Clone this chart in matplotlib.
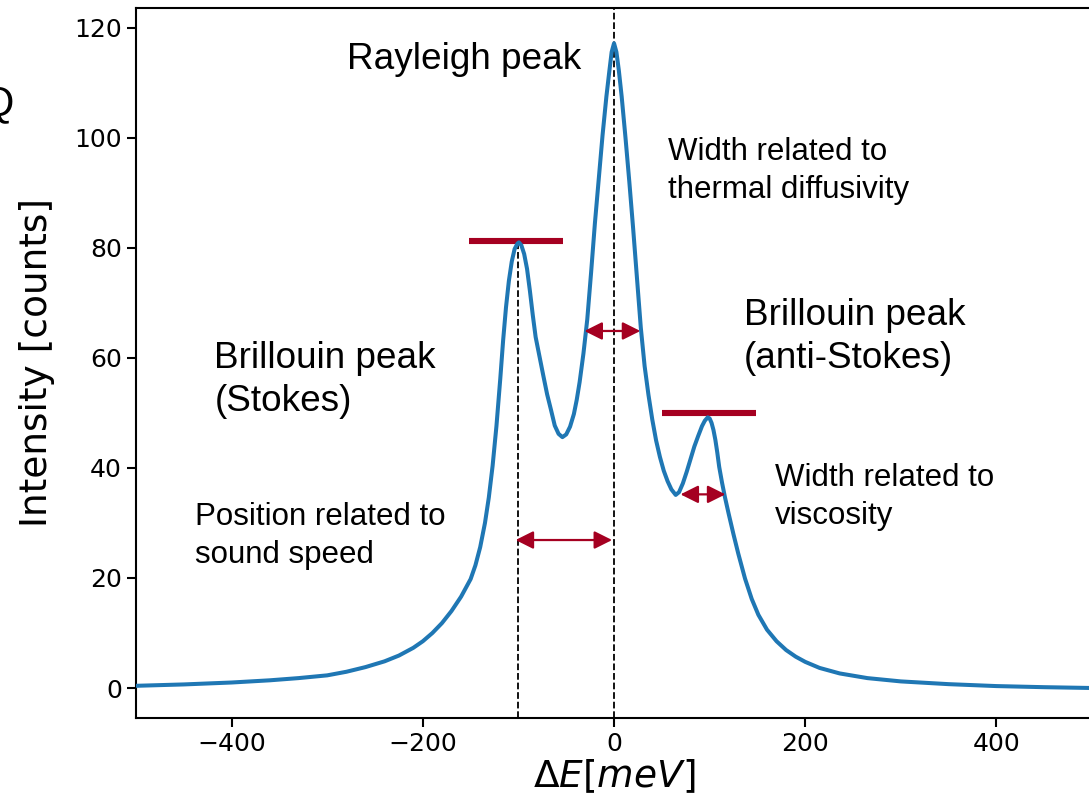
import numpy as np
import matplotlib
matplotlib.use("Agg")
import matplotlib.pyplot as plt

# spectrum (energy shift in meV, intensity in counts)
energy = [-500, -450, -400, -360, -330, -300, -280, -260, -240, -225, -210, -200,
          -190, -180, -170, -160, -150, -145, -140, -135, -131, -127, -123, -119,
          -116, -113, -110, -107, -104, -101, -99.5, -97, -94, -91, -88, -85, -82,
          -78, -74, -70, -66, -62, -58, -54, -50, -46, -42, -39, -36, -32, -28,
          -24, -20, -16, -12, -8, -5, -2.5, 0, 2.5, 5, 8, 12, 16, 20, 24, 28, 32,
          36, 40, 44, 48, 52, 56, 60, 64.5, 68, 72, 76, 80, 84, 88, 92, 95, 98,
          100, 102, 104, 106, 108, 110, 113, 116, 120, 125, 130, 137, 144, 151,
          160, 170, 180, 190, 200, 215, 236, 265, 300, 350, 400, 450, 500]
intensity = [0.4, 0.65, 1.0, 1.4, 1.8, 2.3, 2.95, 3.8, 4.85, 5.9, 7.3, 8.5,
             10.0, 11.8, 14.0, 16.6, 19.8, 22.3, 25.6, 30.0, 34.6, 40.4, 47.6, 56.2,
             63.2, 69.2, 74.0, 77.5, 79.8, 80.8, 81.0, 80.5, 78.9, 76.2, 72.2, 67.8, 63.8,
             60.3, 56.8, 53.4, 50.6, 47.7, 46.2, 45.6, 46.1, 47.5, 49.8, 52.4, 55.6, 60.8, 67.0,
             75.5, 84.5, 92.5, 100.5, 107.5, 112.0, 115.6, 117.2, 115.6, 112.3, 107.5, 100.0, 92.0, 83.5, 74.5, 65.5, 58.5,
             53.3, 48.8, 45.0, 42.0, 39.5, 37.6, 36.1, 35.1, 35.6, 37.2, 39.3, 41.6, 43.9, 45.8, 47.6, 48.6, 49.2,
             49.0, 48.2, 46.9, 45.1, 42.8, 40.2, 37.3, 34.7, 31.6, 27.9, 24.4, 19.9, 16.2, 13.3,
             10.6, 8.5, 6.9, 5.7, 4.75, 3.65, 2.65, 1.8, 1.2, 0.7, 0.35, 0.15, 0.0]

# annotation guides
rayleigh_pos = 0
stokes_pos = -100
stokes_top = 80.9
stokes_bar = ([-152, -53], 81.3)
antistokes_bar = ([50, 149], 50.0)
arrows = [((-31, 27.5), 64.9),    # rayleigh width
          ((69.5, 116.5), 35.2),  # brillouin width
          ((-103, -2), 26.9)]     # brillouin shift

# x, y of the last line's baseline, text, size
texts = [(-279, 112.6, "Rayleigh peak", 26.6),
         (56, 89.1, "Width related to\nthermal diffusivity", 22.5),
         (136, 58.1, "Brillouin peak\n(anti-Stokes)", 26.6),
         (-418, 50.3, "Brillouin peak\n(Stokes)", 26.6),
         (-438, 22.8, "Position related to\nsound speed", 22.5),
         (168, 29.9, "Width related to\nviscosity", 22.5)]

RED = "#a50021"

fig = plt.figure(figsize=(10.89, 8.07), dpi=100)
ax = fig.add_axes([0.1249, 0.1103, 0.8779, 0.8804])

ax.plot(energy, intensity, color="#1f77b4", lw=2.9, zorder=3)

ax.set_xlim(-500, 500)
ax.set_ylim(-5.45, 123.7)
y0 = ax.get_ylim()[0]

ax.axvline(rayleigh_pos, color="black", ls="--", lw=1.3, zorder=2)
ax.vlines(stokes_pos, y0, stokes_top, color="black", ls="--", lw=1.3, zorder=2)

for xs, y in [stokes_bar, antistokes_bar]:
    ax.plot(xs, [y, y], color=RED, lw=4.4, solid_capstyle="butt", zorder=2)

for (xa, xb), y in arrows:
    ax.annotate("", xy=(xb, y), xytext=(xa, y),
                arrowprops=dict(arrowstyle="<|-|>,head_length=0.4,head_width=0.2",
                                color=RED, lw=1.6, mutation_scale=27,
                                shrinkA=0, shrinkB=0), zorder=4)

for x, y, s, fs in texts:
    ax.text(x, y, s, fontsize=fs, family="Liberation Sans", ha="left",
            va="baseline", linespacing=1.32)

ax.set_xticks([-400, -200, 0, 200, 400])
ax.set_yticks([0, 20, 40, 60, 80, 100, 120])
ax.tick_params(labelsize=18, length=6.7, width=1.5)
for sp in ax.spines.values():
    sp.set_linewidth(1.5)

ax.set_xlabel(r"$\Delta E [meV]$", fontsize=27, labelpad=1)
ax.set_ylabel("Intensity [counts]", fontsize=27, labelpad=14)

# stray letter from the neighbouring slide text
fig.text(14 / 1089, 1 - 104 / 807, "Q", fontsize=30, family="Liberation Sans",
         ha="right", va="center")

fig.savefig("out.png", dpi=100)
